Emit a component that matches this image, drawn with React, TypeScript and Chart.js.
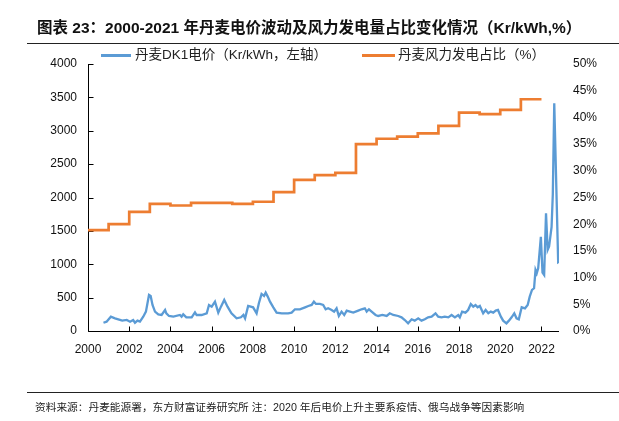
import React, { useEffect, useRef } from "react";
import { Chart, registerables } from "chart.js";

Chart.register(...registerables);

// ---- Data ----
const titleText = "图表 23：2000-2021 年丹麦电价波动及风力发电量占比变化情况（Kr/kWh,%）";
const footerText = "资料来源：丹麦能源署，东方财富证券研究所 注：2020 年后电价上升主要系疫情、俄乌战争等因素影响";
const priceLabel = "丹麦DK1电价（Kr/kWh，左轴）";
const windLabel = "丹麦风力发电占比（%）";

const xTickYears = [2000, 2002, 2004, 2006, 2008, 2010, 2012, 2014, 2016, 2018, 2020, 2022];
const leftTickValues = [0, 500, 1000, 1500, 2000, 2500, 3000, 3500, 4000];
const rightTickValues = [0, 5, 10, 15, 20, 25, 30, 35, 40, 45, 50];

const priceDates = [
  2000.75, 2000.9, 2001.11, 2001.31, 2001.47, 2001.66, 2001.88, 2002.04, 2002.19, 2002.28,
  2002.4, 2002.52, 2002.68, 2002.81, 2002.96, 2003.04, 2003.13, 2003.25, 2003.41, 2003.57,
  2003.74, 2003.8, 2003.93, 2004.14, 2004.46, 2004.54, 2004.62, 2004.77, 2005.03, 2005.19,
  2005.27, 2005.51, 2005.76, 2005.87, 2006.0, 2006.16, 2006.32, 2006.45, 2006.61, 2006.77,
  2006.96, 2007.21, 2007.42, 2007.54, 2007.62, 2007.77, 2008.01, 2008.18, 2008.29, 2008.42,
  2008.54, 2008.62, 2008.72, 2008.83, 2008.99, 2009.15, 2009.4, 2009.71, 2009.88, 2010.04,
  2010.28, 2010.53, 2010.69, 2010.85, 2010.96, 2011.06, 2011.25, 2011.41, 2011.53, 2011.65,
  2011.82, 2011.94, 2012.06, 2012.17, 2012.3, 2012.43, 2012.55, 2012.71, 2012.87, 2013.11,
  2013.27, 2013.43, 2013.52, 2013.63, 2013.76, 2013.95, 2014.08, 2014.28, 2014.49, 2014.64,
  2014.81, 2015.05, 2015.21, 2015.37, 2015.53, 2015.7, 2015.85, 2016.02, 2016.18, 2016.34,
  2016.5, 2016.67, 2016.86, 2016.99, 2017.15, 2017.31, 2017.48, 2017.64, 2017.8, 2017.96,
  2018.04, 2018.15, 2018.31, 2018.44, 2018.57, 2018.69, 2018.8, 2018.9, 2019.01, 2019.17,
  2019.29, 2019.42, 2019.54, 2019.66, 2019.78, 2019.89, 2020.03, 2020.14, 2020.3, 2020.42,
  2020.55, 2020.68, 2020.79, 2020.9, 2021.04, 2021.2, 2021.33, 2021.43, 2021.54, 2021.64,
  2021.71, 2021.77, 2021.84, 2021.97, 2022.05, 2022.13, 2022.22, 2022.3, 2022.37, 2022.49,
  2022.55, 2022.62, 2022.81, 2022.86,
];

const priceValues = [
  124, 140, 214, 190, 175, 155, 165, 140, 165, 124,
  155, 140, 214, 290, 540, 525, 390, 290, 250, 240,
  315, 265, 225, 215, 240, 215, 250, 205, 205, 280,
  240, 240, 265, 390, 365, 440, 275, 365, 465, 365,
  265, 190, 205, 240, 190, 375, 355, 265, 415, 555,
  525, 575, 515, 440, 355, 275, 265, 265, 275, 325,
  325, 355, 375, 390, 440, 405, 405, 390, 325, 340,
  315, 290, 340, 225, 290, 240, 305, 290, 275, 305,
  325, 340, 290, 325, 290, 240, 225, 240, 225, 265,
  240, 225, 205, 165, 115, 175, 155, 190, 155, 175,
  205, 215, 265, 215, 205, 215, 205, 240, 205, 240,
  205, 290, 275, 315, 405, 365, 390, 355, 375, 265,
  315, 265, 290, 275, 305, 315, 215, 155, 115, 155,
  205, 265, 190, 175, 355, 340, 390, 515, 615, 640,
  915, 865, 940, 1410, 875, 840, 1765, 1215, 1265, 1560,
  2050, 3410, 1030, 1040,
];

// yearly wind share (%), each value held for the year; final point closes 2021's step
const windYears = [2000, 2001, 2002, 2003, 2004, 2005, 2006, 2007, 2008, 2009, 2010, 2011, 2012, 2013, 2014, 2015, 2016, 2017, 2018, 2019, 2020, 2021, 2022];
const windShares = [18.9, 20.0, 22.3, 23.8, 23.5, 24.0, 24.0, 23.8, 24.2, 26.0, 28.3, 29.2, 29.6, 35.0, 36.0, 36.4, 37.0, 38.4, 40.9, 40.6, 41.4, 43.4, 43.4];

const BLUE = "#5B9BD5";
const ORANGE = "#ED7D31";
const LATIN = '"Liberation Sans", Arial, "Noto Sans CJK SC", sans-serif';

export default function App() {
  const ref = useRef<HTMLCanvasElement>(null);

  useEffect(() => {
    if (!ref.current) return;
    const axisPlugin = {
      id: "insideAxes",
      beforeDatasetsDraw(chart: any) {
        const { ctx, chartArea: ca, scales } = chart;
        ctx.save();
        ctx.strokeStyle = "#000";
        ctx.lineWidth = 1;
        ctx.beginPath();
        const b = Math.round(ca.bottom) + 0.5;
        const l = Math.round(ca.left) + 0.5;
        ctx.moveTo(l, Math.round(ca.top));
        ctx.lineTo(l, b);
        ctx.lineTo(Math.round(ca.right), b);
        for (const v of xTickYears) {
          const px = Math.round(scales.x.getPixelForValue(v)) + 0.5;
          ctx.moveTo(px, b);
          ctx.lineTo(px, b - 5);
        }
        for (const v of leftTickValues) {
          const py = Math.round(scales.y.getPixelForValue(v)) + 0.5;
          ctx.moveTo(l, py);
          ctx.lineTo(l + 5, py);
        }
        ctx.stroke();
        ctx.restore();
      },
    };

    const chart = new Chart(ref.current, {
      type: "line",
      data: {
        datasets: [
          {
            label: priceLabel,
            data: priceDates.map((d, i) => ({ x: d, y: priceValues[i] })),
            borderColor: BLUE,
            backgroundColor: BLUE,
            borderWidth: 2.3,
            pointRadius: 0,
            tension: 0,
            yAxisID: "y",
          },
          {
            label: windLabel,
            data: windYears.map((d, i) => ({ x: d, y: windShares[i] })),
            borderColor: ORANGE,
            backgroundColor: ORANGE,
            borderWidth: 2.7,
            pointRadius: 0,
            stepped: "before",
            yAxisID: "y1",
          },
        ],
      },
      options: {
        animation: false,
        responsive: false,
        layout: { padding: { top: 64, left: 0, right: 0, bottom: 0 } },
        plugins: { legend: { display: false }, tooltip: { enabled: false }, title: { display: false } },
        scales: {
          x: {
            type: "linear",
            min: 2000,
            max: 2022.85,
            grid: { display: false, drawTicks: false },
            border: { display: false },
            afterBuildTicks: (s: any) => {
              s.ticks = xTickYears.map((v) => ({ value: v }));
            },
            afterFit: (s: any) => {
              s.height = 90;
            },
            ticks: {
              autoSkip: false,
              maxRotation: 0,
              padding: 11,
              color: "#111",
              font: { family: LATIN, size: 12 },
              callback: (v: any) => String(v),
            },
          },
          y: {
            type: "linear",
            position: "left",
            min: 0,
            max: 4000,
            grid: { display: false, drawTicks: false },
            border: { display: false },
            afterBuildTicks: (s: any) => {
              s.ticks = leftTickValues.map((v) => ({ value: v }));
            },
            afterFit: (s: any) => {
              s.width = 88;
            },
            ticks: {
              padding: 11,
              color: "#111",
              font: { family: LATIN, size: 12 },
              callback: (v: any) => String(v),
            },
          },
          y1: {
            type: "linear",
            position: "right",
            min: 0,
            max: 50,
            grid: { display: false, drawTicks: false },
            border: { display: false },
            afterBuildTicks: (s: any) => {
              s.ticks = rightTickValues.map((v) => ({ value: v }));
            },
            afterFit: (s: any) => {
              s.width = 60;
            },
            ticks: {
              padding: 14,
              color: "#111",
              font: { family: LATIN, size: 12 },
              callback: (v: any) => v + "%",
            },
          },
        },
      },
      plugins: [axisPlugin],
    });
    return () => chart.destroy();
  }, []);

  return (
    <div style={{ position: "fixed", left: 0, top: 0, width: 619, height: 421, background: "#fff", overflow: "hidden" }}>
      <canvas ref={ref} width={619} height={421} style={{ position: "absolute", left: 0, top: 0, width: 619, height: 421 }} />
      <div
        style={{
          position: "absolute",
          left: 37,
          top: 19,
          fontFamily: LATIN,
          fontWeight: 700,
          fontSize: 15.5,
          lineHeight: "18px",
          color: "#111",
          whiteSpace: "nowrap",
        }}
      >
        {titleText}
      </div>
      <div style={{ position: "absolute", left: 27, top: 43, width: 592, height: 1, background: "#222" }} />
      <div style={{ position: "absolute", left: 101, top: 54, width: 30, height: 3, background: BLUE }} />
      <div style={{ position: "absolute", left: 135, top: 46, fontFamily: LATIN, fontSize: 13.5, lineHeight: "18px", color: "#222", whiteSpace: "nowrap" }}>
        {priceLabel}
      </div>
      <div style={{ position: "absolute", left: 362, top: 54, width: 33, height: 3, background: ORANGE }} />
      <div style={{ position: "absolute", left: 398, top: 46, fontFamily: LATIN, fontSize: 13.5, lineHeight: "18px", color: "#222", whiteSpace: "nowrap" }}>
        {windLabel}
      </div>
      <div style={{ position: "absolute", left: 27, top: 392, width: 592, height: 1, background: "#222" }} />
      <div style={{ position: "absolute", left: 35, top: 400, fontFamily: LATIN, fontSize: 10.7, lineHeight: "14px", color: "#222", whiteSpace: "nowrap" }}>
        {footerText}
      </div>
    </div>
  );
}
